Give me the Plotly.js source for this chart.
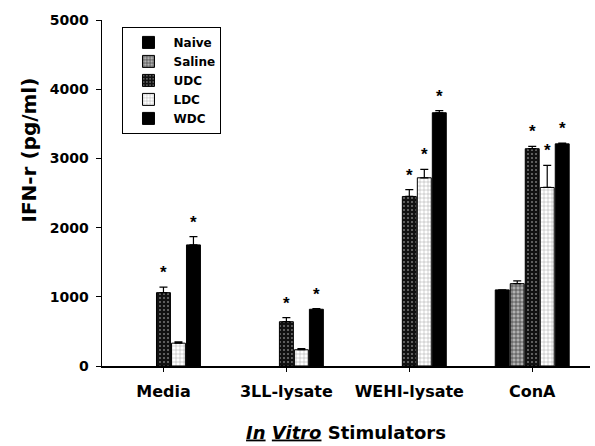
<!DOCTYPE html>
<html><head><meta charset="utf-8">
<script src="https://cdn.plot.ly/plotly-3.0.1.min.js"></script>
<style>html,body{margin:0;padding:0;background:#fff}#c{width:595px;height:446px}</style>
</head><body><div id="c"></div>
<script>
var categories = ["Media", "3LL-lysate", "WEHI-lysate", "ConA"];
var seriesNames = ["Naive", "Saline", "UDC", "LDC", "WDC"];
var naive  = [null, null, null, 1100];
var saline = [null, null, null, 1190];
var udc    = [1060, 640, 2450, 3140];
var ldc    = [330, 235, 2720, 2580];
var wdc    = [1750, 820, 3660, 3210];
var naiveErr  = [0, 0, 0, 0];
var salineErr = [0, 0, 0, 40];
var udcErr    = [80, 60, 100, 35];
var ldcErr    = [20, 15, 120, 320];
var wdcErr    = [120, 10, 30, 10];
// significance markers (1 = asterisk)
var naiveSig  = [0, 0, 0, 0];
var salineSig = [0, 0, 0, 0];
var udcSig    = [1, 1, 1, 1];
var ldcSig    = [0, 0, 1, 1];
var wdcSig    = [1, 1, 1, 1];

var values = [naive, saline, udc, ldc, wdc];
var errs = [naiveErr, salineErr, udcErr, ldcErr, wdcErr];
var sigs = [naiveSig, salineSig, udcSig, ldcSig, wdcSig];

var styles = [
  {color: "#000000", pattern: {shape: ""}},
  {color: "#b0b0b0", pattern: {shape: "+", fgcolor: "#333333", bgcolor: "#b0b0b0", size: 4, solidity: 0.3}},
  {color: "#111111", pattern: {shape: ".", fgcolor: "#777777", bgcolor: "#111111", size: 4, solidity: 0.2}},
  {color: "#ffffff", pattern: {shape: "+", fgcolor: "#999999", bgcolor: "#ffffff", size: 4, solidity: 0.2}},
  {color: "#000000", pattern: {shape: ""}}
];

var FONT = "DejaVu Sans, Liberation Sans, Arial, sans-serif";
var bargap = 0.39;
var traces = seriesNames.map(function(n, i){
  return {
    type: "bar", name: n, x: categories, y: values[i],
    marker: {color: styles[i].color, pattern: styles[i].pattern, line: {color: "#000", width: 1}},
    error_y: {type: "data", symmetric: false, array: errs[i], arrayminus: categories.map(function(){return 0;}),
              visible: true, color: "#000", thickness: 1.2, width: 4}
  };
});

var annotations = [];
seriesNames.forEach(function(n, i){
  categories.forEach(function(c, j){
    if (sigs[i][j]) {
      annotations.push({
        x: j + (i - 2) * (1 - bargap) / 5, xref: "x",
        y: values[i][j] + errs[i][j], yref: "y",
        text: "*", showarrow: false, yanchor: "bottom", yshift: 3,
        font: {family: "Liberation Sans, Arial, sans-serif", size: 17, weight: "bold", color: "#000"}
      });
    }
  });
});
annotations.push({
  text: "IFN-r (pg/ml)", textangle: -90, showarrow: false,
  xref: "paper", yref: "paper", x: -0.15, y: 0.625, xanchor: "center", yanchor: "middle",
  font: {family: FONT, size: 20, weight: "bold", color: "#000"}
});

var layout = {
  width: 595, height: 446,
  margin: {l: 102, r: 5, t: 20, b: 80},
  paper_bgcolor: "#fff", plot_bgcolor: "#fff",
  barmode: "group", bargap: bargap, bargroupgap: 0.07,
  font: {family: FONT, color: "#000"},
  showlegend: true,
  legend: {x: 0.042, y: 0.98, xanchor: "left", yanchor: "top", bgcolor: "#fff",
           bordercolor: "#000", borderwidth: 1,
           font: {size: 12, weight: "bold", family: FONT},
           tracegroupgap: 0, itemwidth: 40},
  xaxis: {type: "category", range: [-0.5, 3.47], showline: true, linecolor: "#000", linewidth: 1.5,
          ticks: "outside", ticklen: 4, tickcolor: "#000", showgrid: false, zeroline: false,
          tickfont: {size: 16, weight: "bold"}, ticklabelstandoff: 6,
          title: {text: "<i><u>In</u></i> <i><u>Vitro</u></i> Stimulators", font: {size: 18, weight: "bold"}, standoff: 26}},
  yaxis: {range: [0, 5000], dtick: 1000, showline: true, linecolor: "#000", linewidth: 1.5,
          ticks: "outside", ticklen: 5, tickcolor: "#000", showgrid: false, zeroline: false,
          tickfont: {size: 14, weight: "bold"}, ticklabelstandoff: 4},
  annotations: annotations
};

Plotly.newPlot("c", traces, layout, {staticPlot: true, displayModeBar: false});
</script></body></html>
